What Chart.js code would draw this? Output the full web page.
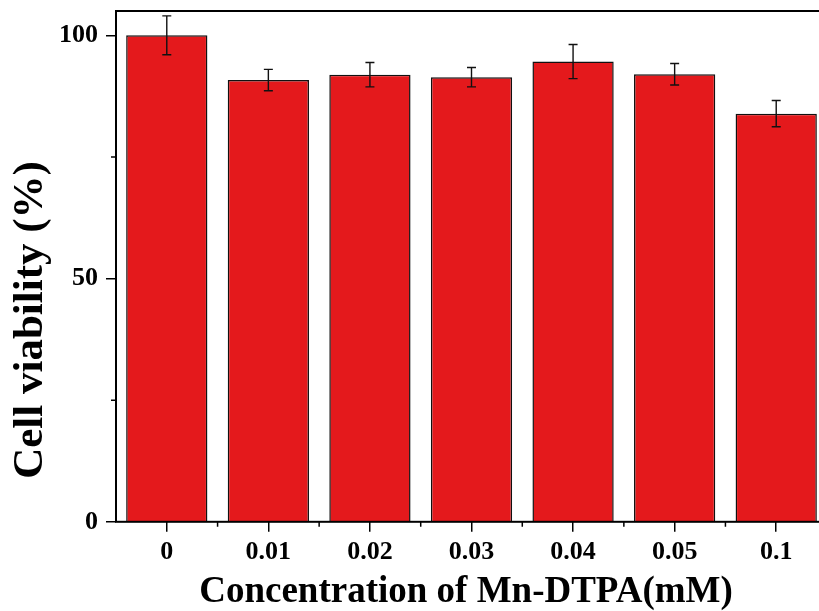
<!DOCTYPE html>
<html>
<head>
<meta charset="utf-8">
<script src="https://cdn.jsdelivr.net/npm/chart.js@4"></script>
<style>
    html, body { margin: 0; padding: 0; background: #fff; overflow: hidden; }
    #wrap { position: relative; width: 830px; height: 611px; }
</style>
</head>
<body>
<div id="wrap"><canvas id="grafic"></canvas></div>
<script>
"use strict";

// values
const concentrations = ['0', '0.01', '0.02', '0.03', '0.04', '0.05', '0.1'];
const viability = [100, 90.8, 91.9, 91.4, 94.6, 92.0, 83.9];
const viabilityErr = [4.0, 2.2, 2.5, 2.0, 3.5, 2.2, 2.7];
const yTicks = [0, 50, 100];
const yMinorTicks = [25, 75];
const xTitle = 'Concentration of Mn-DTPA(mM)';
const yTitle = 'Cell viability (%)';

const serif = '"Liberation Serif", "Times New Roman", serif';

// frame, minor ticks, error bars and the two axis titles
const extras = {
    id: 'extras',
    afterDatasetsDraw(chart) {
        const ctx = chart.ctx;
        const area = chart.chartArea;
        const x = chart.scales.x;
        const y = chart.scales.y;
        const meta = chart.getDatasetMeta(0);

        ctx.save();
        ctx.strokeStyle = '#111';
        ctx.lineWidth = 1.4;
        meta.data.forEach(function (bar, i) {
            let top = y.getPixelForValue(viability[i] + viabilityErr[i]);
            let bot = y.getPixelForValue(viability[i] - viabilityErr[i]);
            ctx.beginPath();
            ctx.moveTo(bar.x, top);
            ctx.lineTo(bar.x, bot);
            ctx.moveTo(bar.x - 4.5, top);
            ctx.lineTo(bar.x + 4.5, top);
            ctx.moveTo(bar.x - 4.5, bot);
            ctx.lineTo(bar.x + 4.5, bot);
            ctx.stroke();
        });

        ctx.strokeStyle = '#000';
        ctx.lineWidth = 1.5;
        ctx.beginPath();
        for (let i = 1; i < concentrations.length; i++) {
            let bx = (x.getPixelForTick(i - 1) + x.getPixelForTick(i)) / 2;
            ctx.moveTo(bx, area.bottom);
            ctx.lineTo(bx, area.bottom + 5);
        }
        yMinorTicks.forEach(function (v) {
            let py = y.getPixelForValue(v);
            ctx.moveTo(area.left, py);
            ctx.lineTo(area.left - 5, py);
        });
        ctx.stroke();

        ctx.lineWidth = 2;
        ctx.strokeRect(area.left, area.top, area.right - area.left, area.bottom - area.top);

        // axis titles
        ctx.fillStyle = '#000';
        ctx.textBaseline = 'alphabetic';
        ctx.textAlign = 'center';
        ctx.font = 'bold 37px ' + serif;
        ctx.fillText(xTitle, 466, area.bottom + 80);

        ctx.translate(42, 320);
        ctx.rotate(-Math.PI / 2);
        ctx.font = 'bold 43px ' + serif;
        ctx.fillText(yTitle, 0, 0);
        ctx.restore();
    }
};

function noEdgePadding(scale) {
    scale.paddingTop = 0;
    scale.paddingBottom = 0;
    scale.paddingLeft = 0;
    scale.paddingRight = 0;
}

function main() {
    new Chart(document.getElementById('grafic'), {
        type: 'bar',
        data: {
            labels: concentrations,
            datasets: [{
                data: viability,
                backgroundColor: '#e4191c',
                borderColor: '#111',
                borderWidth: 1.5,
                barPercentage: 0.8,
                categoryPercentage: 1.0
            }]
        },
        options: {
            responsive: true,
            maintainAspectRatio: false,
            animation: false,
            layout: { padding: { top: 11, left: 51, right: 3, bottom: 38 } },
            plugins: { legend: { display: false }, tooltip: { enabled: false } },
            scales: {
                x: {
                    afterFit: noEdgePadding,
                    grid: { display: true, drawOnChartArea: false, offset: false, tickLength: 10, color: '#000', lineWidth: 1.5 },
                    border: { display: false },
                    ticks: { color: '#000', padding: 5, font: { family: serif, size: 26, weight: 'bold' } }
                },
                y: {
                    min: 0,
                    max: 105,
                    afterFit: noEdgePadding,
                    afterBuildTicks: function (axis) {
                        axis.ticks = yTicks.map(function (v) { return { value: v }; });
                    },
                    grid: { display: true, drawOnChartArea: false, tickLength: 10, color: '#000', lineWidth: 1.5 },
                    border: { display: false },
                    ticks: { color: '#000', padding: 8, font: { family: serif, size: 26, weight: 'bold' } }
                }
            }
        },
        plugins: [extras]
    });
}

document.addEventListener('DOMContentLoaded', main);
</script>
</body>
</html>
